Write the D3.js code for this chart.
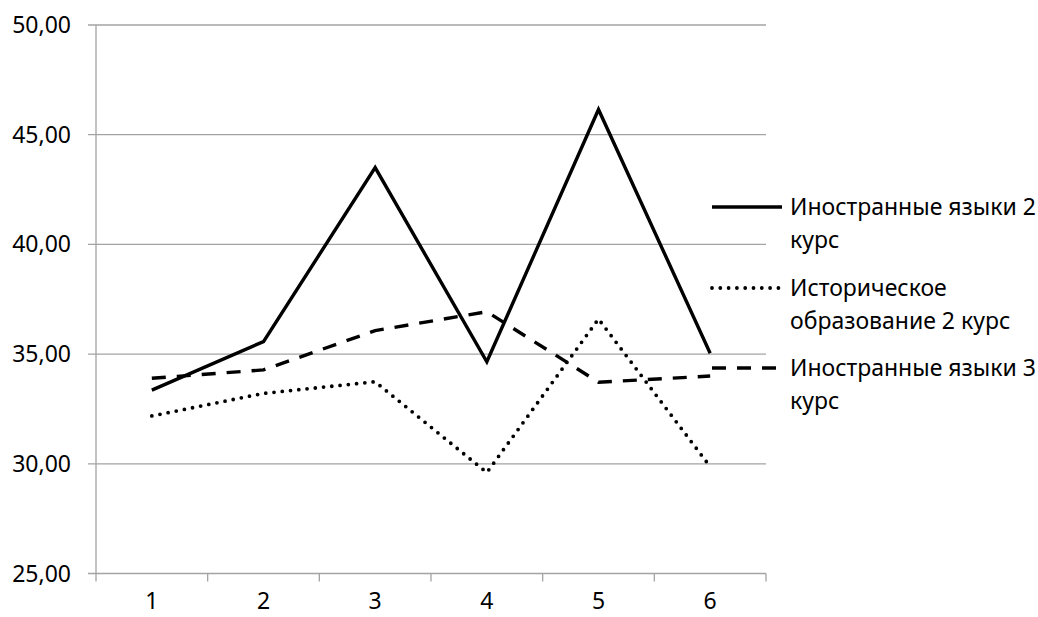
<!DOCTYPE html>
<html>
<head>
<meta charset="utf-8">
<script src="https://cdn.jsdelivr.net/npm/d3@7"></script>
<style>
  html, body { margin: 0; padding: 0; background: #fff; }
  svg { display: block; }
  text { font-family: "Noto Sans", "Open Sans", sans-serif; fill: #000; }
</style>
</head>
<body>
<svg id="chart" width="1038" height="617"></svg>
<script>
const categories = ["1", "2", "3", "4", "5", "6"];
const seriesNames = [
  ["Иностранные языки 2", "курс"],
  ["Историческое", "образование 2 курс"],
  ["Иностранные языки 3", "курс"]
];
const foreign2 = [33.36, 35.57, 43.5, 34.65, 46.15, 35.04];
const history2 = [32.18, 33.21, 33.74, 29.6, 36.6, 29.87];
const foreign3 = [33.9, 34.28, 36.07, 36.93, 33.72, 34.0];
const yTicks = [25, 30, 35, 40, 45, 50];

(function () {
const series = [
  { name: seriesNames[0], values: foreign2, dash: null, cap: "butt", w: 3.4 },
  { name: seriesNames[1], values: history2, dash: "0,8.3", cap: "round", w: 3.8 },
  { name: seriesNames[2], values: foreign3, dash: "14,11", cap: "butt", w: 3.4 }
];

const svg = d3.select("#chart");
const pLeft = 96, pRight = 766, pTop = 25, pBottom = 573.5;

const x = d3.scaleBand().domain(categories).range([pLeft, pRight]).padding(0);
const yScale = d3.scaleLinear().domain([25, 50]).range([pBottom, pTop]);
const fmt = v => d3.format(".2f")(v).replace(".", ",");
const gridColor = "#a3a3a3";
const fs = 23;

// gridlines
svg.append("g").selectAll("line").data(yTicks).join("line")
  .attr("x1", pLeft - 8).attr("x2", pRight)
  .attr("y1", d => yScale(d)).attr("y2", d => yScale(d))
  .attr("stroke", gridColor).attr("stroke-width", 1.3);

// y axis line
svg.append("line").attr("x1", pLeft).attr("x2", pLeft)
  .attr("y1", pTop).attr("y2", pBottom)
  .attr("stroke", gridColor).attr("stroke-width", 1.3);

// y tick labels
svg.append("g").selectAll("text").data(yTicks).join("text")
  .attr("x", 71).attr("y", d => yScale(d) + 8)
  .attr("text-anchor", "end").attr("font-size", fs)
  .text(fmt);

// x axis ticks at band boundaries
const bounds = categories.map(c => x(c)).concat([pRight]);
svg.append("g").selectAll("line").data(bounds).join("line")
  .attr("x1", d => d).attr("x2", d => d)
  .attr("y1", pBottom).attr("y2", pBottom + 8)
  .attr("stroke", gridColor).attr("stroke-width", 1.3);

// x labels
svg.append("g").selectAll("text").data(categories).join("text")
  .attr("x", d => x(d) + x.bandwidth() / 2).attr("y", 609)
  .attr("text-anchor", "middle").attr("font-size", fs)
  .text(d => d);

// lines
const line = d3.line()
  .x((d, i) => x(categories[i]) + x.bandwidth() / 2)
  .y(d => yScale(d));

series.forEach(s => {
  svg.append("path").datum(s.values)
    .attr("d", line)
    .attr("fill", "none")
    .attr("stroke", "#000")
    .attr("stroke-width", s.w)
    .attr("stroke-linejoin", "miter")
    .attr("stroke-linecap", s.cap)
    .attr("stroke-dasharray", s.dash);
});

// legend
const legendY = [207, 288, 368];
series.forEach((s, i) => {
  const g = svg.append("g");
  g.append("line")
    .attr("x1", 712).attr("x2", 782)
    .attr("y1", legendY[i]).attr("y2", legendY[i])
    .attr("stroke", "#000").attr("stroke-width", s.w)
    .attr("stroke-linecap", s.cap)
    .attr("stroke-dasharray", s.dash);
  s.name.forEach((t, j) => {
    g.append("text")
      .attr("x", 790).attr("y", legendY[i] + 8 + j * 33)
      .attr("font-size", fs)
      .text(t);
  });
});
})();
</script>
</body>
</html>
